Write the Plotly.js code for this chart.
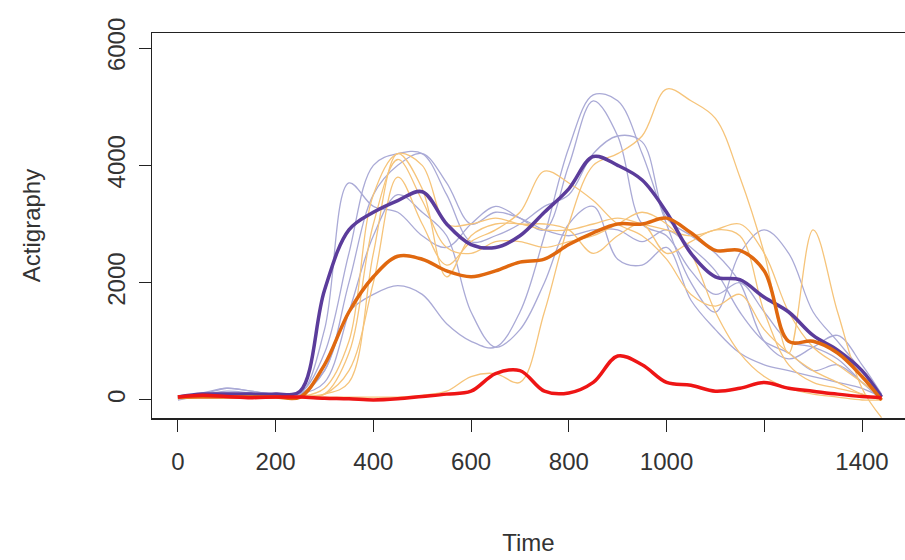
<!DOCTYPE html>
<html>
<head>
<meta charset="utf-8">
<script src="https://cdn.plot.ly/plotly-3.0.1.min.js"></script>
<style>body{margin:0;background:#fff}#chart{width:905px;height:560px}</style>
</head>
<body>
<div id="chart"></div>
<script>
// time grid (minutes), 50-minute steps plus end of day
const time = [0,50,100,150,200,250,300,350,400,450,500,550,600,650,700,750,800,850,900,950,1000,1050,1100,1150,1200,1250,1300,1350,1400,1440];

// individual curves (thin lines)
const purpleThin = [
  [0,80,150,120,100,100,1200,3700,3300,3200,2800,2600,3000,3300,3100,2900,4000,5100,4500,3000,2800,2200,1800,2000,1500,1000,900,700,300,0],
  [50,100,200,150,100,100,500,1500,1800,1950,1800,1300,1000,900,1500,2800,4300,5200,5100,4200,3000,2000,1500,2500,2900,2500,1500,1000,500,100],
  [30,100,120,100,100,120,800,2500,4000,4200,4200,3500,2700,2800,3000,3300,3500,4200,4500,4400,3100,2800,2500,2000,1000,700,900,1100,600,100],
  [20,60,100,100,80,100,300,1500,2800,3500,3200,2800,1500,900,1200,2000,3000,3300,2400,2300,2600,1700,1200,800,600,500,400,300,200,50],
  [40,120,200,150,100,100,500,2000,3500,4000,4200,3700,3000,3200,3100,2900,2800,2900,2900,2700,2900,2600,2200,1500,1000,800,500,600,300,50]
];
const orangeThin = [
  [30,60,80,60,50,60,100,300,2500,4200,3600,2100,2800,3000,3000,2900,2900,3000,3100,3000,2900,2800,2900,3000,2500,1500,900,600,300,50],
  [20,50,60,50,50,50,100,800,3000,4100,3400,2600,2500,2700,2700,2600,2700,2800,3000,3200,3000,2500,1500,800,400,200,100,50,0,0],
  [50,50,50,50,50,50,50,50,50,50,80,150,400,450,300,1500,3000,4000,4200,4500,5300,5100,4800,3800,2500,800,2900,1500,200,-300],
  [40,60,60,50,50,60,200,1000,3500,4200,4000,3000,3000,3100,3000,3000,2900,2500,2800,3000,2500,2700,2900,2800,1500,600,300,200,100,0],
  [30,50,60,50,50,50,100,500,2000,3800,3000,2300,2700,2900,3200,3900,3700,3400,3000,2800,2400,1800,1600,1800,1200,800,500,300,100,0]
];

// group means and third group
const purpleMean = [50,100,100,100,100,150,1870,2900,3200,3400,3550,3000,2650,2600,2800,3200,3600,4150,4000,3750,3200,2500,2100,2050,1750,1500,1100,850,500,50];
const orangeMean = [50,50,50,50,50,50,600,1500,2100,2450,2400,2200,2100,2200,2350,2400,2650,2850,3000,3000,3100,2850,2550,2550,2200,1000,1000,800,400,0];
const redLine = [50,80,60,40,50,50,30,20,0,20,60,100,150,450,500,150,120,300,750,600,300,250,150,200,300,200,150,100,60,40];

const traces = [];
purpleThin.forEach(y => traces.push({x: time, y: y, mode: 'lines', line: {color: '#aaaad6', width: 1.3, shape: 'spline'}}));
orangeThin.forEach(y => traces.push({x: time, y: y, mode: 'lines', line: {color: '#f6c47a', width: 1.3, shape: 'spline'}}));
traces.push({x: time, y: purpleMean, mode: 'lines', line: {color: '#5b3c9b', width: 3.5, shape: 'spline'}});
traces.push({x: time, y: orangeMean, mode: 'lines', line: {color: '#e0680f', width: 3.5, shape: 'spline'}});
traces.push({x: time, y: redLine, mode: 'lines', line: {color: '#ee1515', width: 3.5, shape: 'spline'}});

const font = {family: 'Liberation Sans, Arial, sans-serif', size: 24, color: '#333'};
Plotly.newPlot('chart', traces, {
  width: 905, height: 560, showlegend: false,
  paper_bgcolor: '#fff', plot_bgcolor: '#fff', font: font,
  margin: {l: 152, r: 0, t: 33, b: 142},
  xaxis: {range: [-53, 1488], tickvals: [0,200,400,600,800,1000,1200,1400],
          ticktext: ['0','200','400','600','800','1000','','1400'],
          ticks: 'outside', ticklen: 12, tickcolor: '#222', showgrid: false, zeroline: false,
          showline: true, mirror: true, linecolor: '#222', linewidth: 1.5, ticklabelstandoff: 10,
          title: {text: 'Time', font: font, standoff: 60}},
  yaxis: {range: [-307, 6256], tickvals: [0,2000,4000,6000], tickangle: -90,
          ticks: 'outside', ticklen: 12, tickcolor: '#222', showgrid: false, zeroline: false,
          showline: true, mirror: true, linecolor: '#222', linewidth: 1.5, ticklabelstandoff: 4,
          title: {text: 'Actigraphy', font: font, standoff: 55}}
}, {staticPlot: true});
</script>
</body>
</html>
